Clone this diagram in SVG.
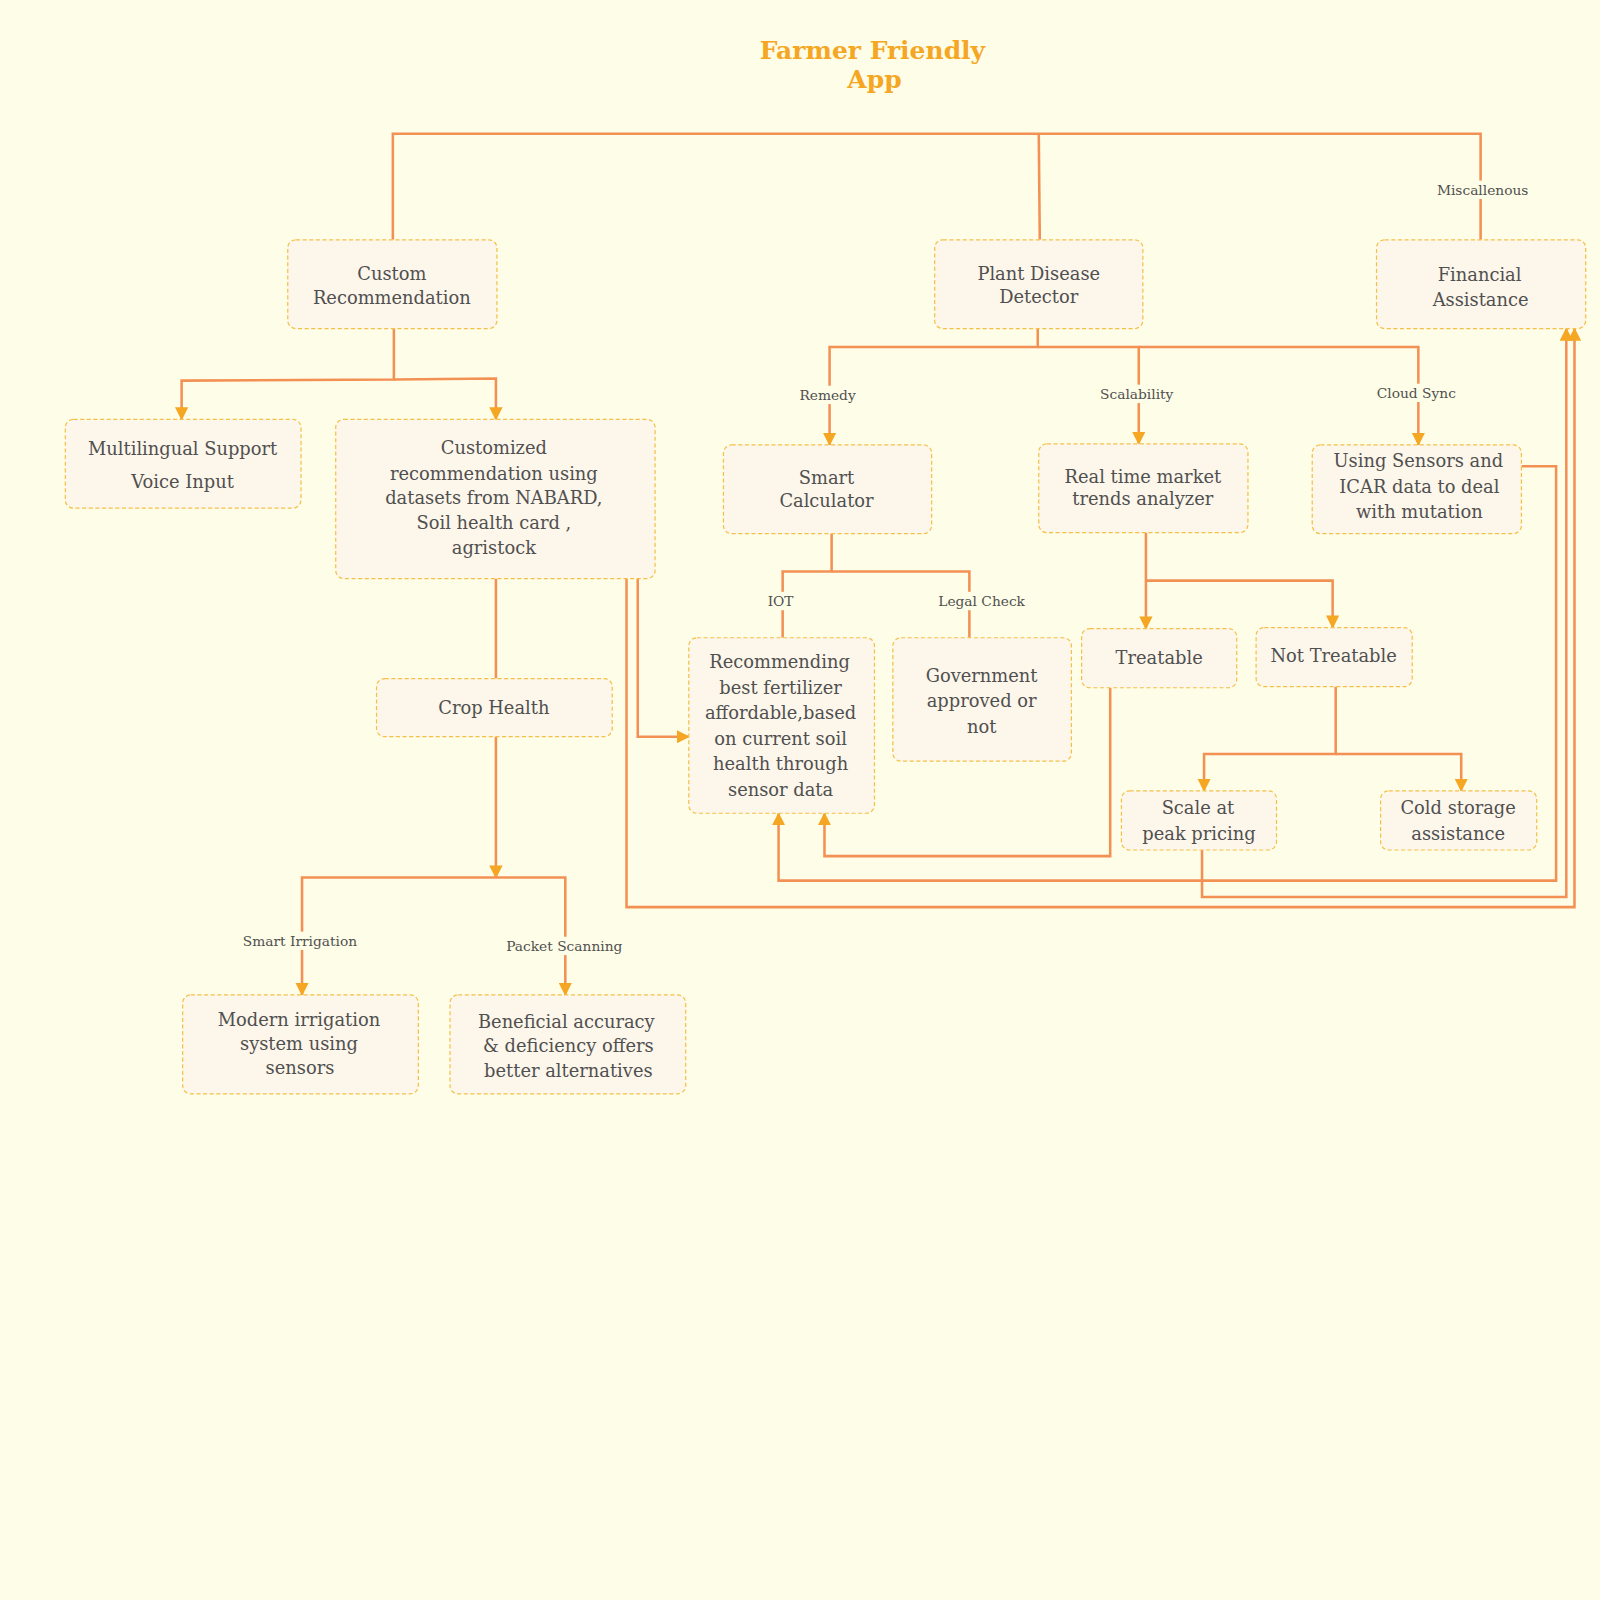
<svg xmlns="http://www.w3.org/2000/svg" width="1600" height="1600" viewBox="0 0 1600 1600">
<defs>
<style>
.bg{fill:#FEFDE7}
.node rect{fill:#FDF6EA;stroke:#F5C04A;stroke-width:1.2;stroke-dasharray:4 2.5}
.node text{font-family:"DejaVu Serif","Liberation Serif",serif;font-size:17.5px;fill:#505050;text-anchor:middle}
.title{font-family:"DejaVu Serif","Liberation Serif",serif;font-size:24.5px;font-weight:bold;fill:#F5A623;text-anchor:middle}
.conn path{fill:none;stroke:#F39155;stroke-width:2.5}
.arr{marker-end:url(#ah)}
.lbl rect{fill:#FEFDE7}
.lbl text{font-family:"DejaVu Serif","Liberation Serif",serif;font-size:13.5px;fill:#505050;text-anchor:middle}
</style>
<marker id="ah" viewBox="0 0 12 12" refX="11" refY="6" markerWidth="13" markerHeight="13" markerUnits="userSpaceOnUse" orient="auto">
<path d="M0,0 L12,6 L0,12 z" fill="#F5A623"/>
</marker>
</defs>
<rect class="bg" x="0" y="0" width="1600" height="1600"/>
<g transform="scale(1.0204)">
<g id="title">
<text class="title" x="855" y="58">Farmer Friendly</text>
<text class="title" x="857" y="86">App</text>
</g>
<g id="connectors" class="conn">
<path d="M385,235 V131 H1451 V235"/>
<path d="M1019,235 L1018,131"/>
<path class="arr" d="M386,322 V372 L178,373 V411"/>
<path class="arr" d="M386,372 L486,371 V411"/>
<path class="arr" d="M1017,322 V340 H813 V436"/>
<path class="arr" d="M1017,340 H1116 V435"/>
<path class="arr" d="M1116,340 H1390 V436"/>
<path d="M815,523 V560 H767 V625"/>
<path d="M815,560 H950 V625"/>
<path class="arr" d="M1123,522 V616"/>
<path class="arr" d="M1123,569 H1306 V615"/>
<path class="arr" d="M1309,673 V739 H1180 V775"/>
<path class="arr" d="M1309,739 H1432 V775"/>
<path d="M486,567 V665"/>
<path class="arr" d="M625,567 V722 H675"/>
<path class="arr" d="M614,567 V889 H1543 V322"/>
<path class="arr" d="M486,722 V860"/>
<path class="arr" d="M486,860 H296 V975"/>
<path class="arr" d="M486,860 H554 V975"/>
<path class="arr" d="M1088,674 V839 H808 V797"/>
<path class="arr" d="M1491,457 H1525 V863 H763 V797"/>
<path class="arr" d="M1178,833 V879 H1535 V322"/>
</g>
<g id="labels" class="lbl">
<g><rect x="1404" y="177" width="98" height="18"/><text x="1453" y="191">Miscallenous</text></g>
<g><rect x="781" y="378" width="60" height="18"/><text x="811" y="392">Remedy</text></g>
<g><rect x="1076" y="377" width="76" height="18"/><text x="1114" y="391">Scalability</text></g>
<g><rect x="1347" y="376" width="82" height="18"/><text x="1388" y="390">Cloud Sync</text></g>
<g><rect x="749" y="580" width="32" height="18"/><text x="765" y="594">IOT</text></g>
<g><rect x="918" y="580" width="88" height="18"/><text x="962" y="594">Legal Check</text></g>
<g><rect x="236" y="913" width="116" height="18"/><text x="294" y="927">Smart Irrigation</text></g>
<g><rect x="494" y="918" width="118" height="18"/><text x="553" y="932">Packet Scanning</text></g>
</g>
<g id="n-custom" class="node"><rect x="282" y="235" width="205" height="87" rx="8"/><text x="384" y="274">Custom</text><text x="384" y="298">Recommendation</text></g>
<g id="n-plant" class="node"><rect x="916" y="235" width="204" height="87" rx="8"/><text x="1018" y="274">Plant Disease</text><text x="1018" y="297">Detector</text></g>
<g id="n-financial" class="node"><rect x="1349" y="235" width="205" height="87" rx="8"/><text x="1450" y="275">Financial</text><text x="1451" y="300">Assistance</text></g>
<g id="n-multi" class="node"><rect x="64" y="411" width="231" height="87" rx="8"/><text x="179" y="446">Multilingual Support</text><text x="179" y="478">Voice Input</text></g>
<g id="n-customized" class="node"><rect x="329" y="411" width="313" height="156" rx="8"/><text x="484" y="445">Customized</text><text x="484" y="470">recommendation using</text><text x="484" y="494">datasets from NABARD,</text><text x="484" y="518">Soil health card ,</text><text x="484" y="543">agristock</text></g>
<g id="n-smart" class="node"><rect x="709" y="436" width="204" height="87" rx="8"/><text x="810" y="474">Smart</text><text x="810" y="497">Calculator</text></g>
<g id="n-market" class="node"><rect x="1018" y="435" width="205" height="87" rx="8"/><text x="1120" y="473">Real time market</text><text x="1120" y="495">trends analyzer</text></g>
<g id="n-sensors" class="node"><rect x="1286" y="436" width="205" height="87" rx="8"/><text x="1390" y="458">Using Sensors and</text><text x="1391" y="483">ICAR data to deal</text><text x="1391" y="508">with mutation</text></g>
<g id="n-crop" class="node"><rect x="369" y="665" width="231" height="57" rx="8"/><text x="484" y="700">Crop Health</text></g>
<g id="n-fert" class="node"><rect x="675" y="625" width="182" height="172" rx="8"/><text x="764" y="655">Recommending</text><text x="765" y="680">best fertilizer</text><text x="765" y="705">affordable,based</text><text x="765" y="730">on current soil</text><text x="765" y="755">health through</text><text x="765" y="780">sensor data</text></g>
<g id="n-gov" class="node"><rect x="875" y="625" width="175" height="121" rx="8"/><text x="962" y="668">Government</text><text x="962" y="693">approved or</text><text x="962" y="718">not</text></g>
<g id="n-treat" class="node"><rect x="1060" y="616" width="152" height="58" rx="8"/><text x="1136" y="651">Treatable</text></g>
<g id="n-nottreat" class="node"><rect x="1231" y="615" width="153" height="58" rx="8"/><text x="1307" y="649">Not Treatable</text></g>
<g id="n-scale" class="node"><rect x="1099" y="775" width="152" height="58" rx="8"/><text x="1174" y="798">Scale at</text><text x="1175" y="823">peak pricing</text></g>
<g id="n-cold" class="node"><rect x="1353" y="775" width="153" height="58" rx="8"/><text x="1429" y="798">Cold storage</text><text x="1429" y="823">assistance</text></g>
<g id="n-irrig" class="node"><rect x="179" y="975" width="231" height="97" rx="8"/><text x="293" y="1005">Modern irrigation</text><text x="293" y="1029">system using</text><text x="294" y="1053">sensors</text></g>
<g id="n-benef" class="node"><rect x="441" y="975" width="231" height="97" rx="8"/><text x="555" y="1007">Beneficial accuracy</text><text x="557" y="1031">&amp; deficiency offers</text><text x="557" y="1055">better alternatives</text></g>
</g>
</svg>
